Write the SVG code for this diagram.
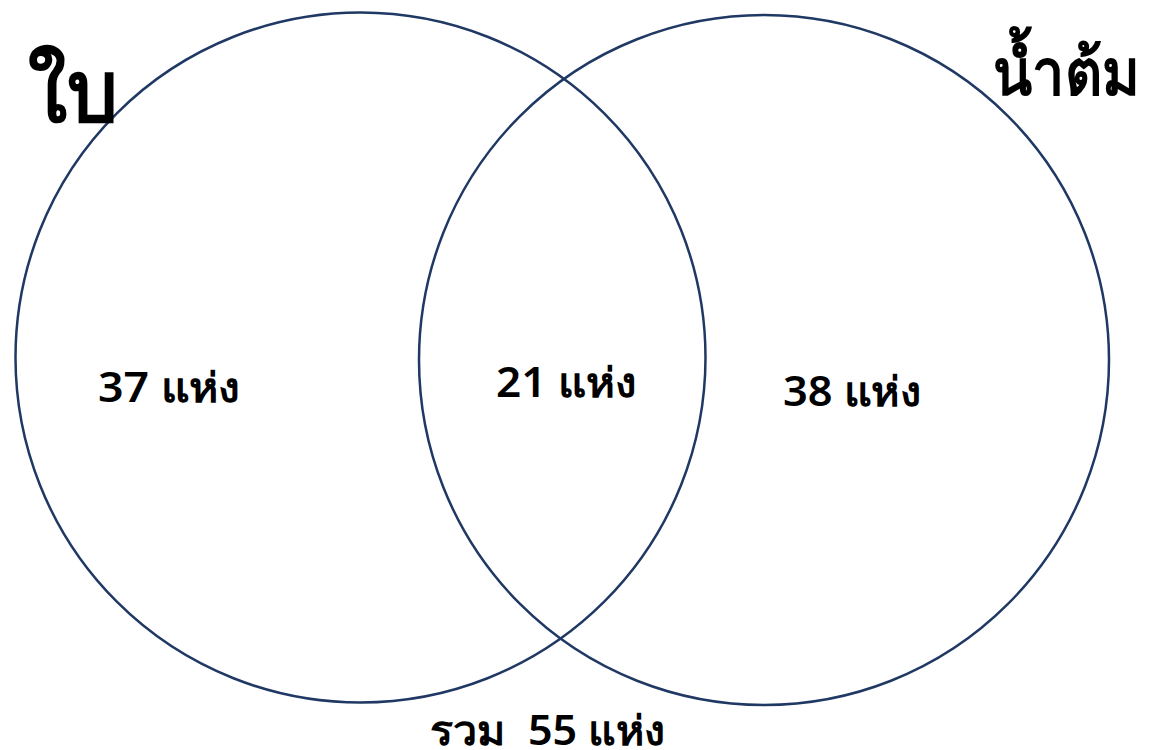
<svg xmlns="http://www.w3.org/2000/svg" width="1149" height="750" viewBox="0 0 1149 750">
<style>
.c{fill:none;stroke:#1f3864;stroke-width:2.5}
.t{font-family:"Noto Sans","DejaVu Sans",sans-serif;fill:#000;font-weight:600;white-space:pre}
.m{font-size:41px}
</style>
<rect width="1149" height="750" fill="#fff"/>
<g id="circles">
<circle id="left" class="c" cx="360.5" cy="357.5" r="345"/>
<circle id="right" class="c" cx="764" cy="360" r="345"/>
</g>
<g id="labels">
<text class="t" x="28" y="121" font-size="84" textLength="90" lengthAdjust="spacingAndGlyphs">ใบ</text>
<text class="t" x="993" y="95" font-size="64" textLength="147" lengthAdjust="spacingAndGlyphs">น้ำต้ม</text>
<text class="t m" x="98" y="402" textLength="142" lengthAdjust="spacingAndGlyphs">37 แห่ง</text>
<text class="t m" x="496" y="397" textLength="140" lengthAdjust="spacingAndGlyphs">21 แห่ง</text>
<text class="t m" x="783" y="406" textLength="138" lengthAdjust="spacingAndGlyphs">38 แห่ง</text>
<text class="t m" x="430" y="745" textLength="235" lengthAdjust="spacingAndGlyphs">รวม  55 แห่ง</text>
</g>
</svg>
